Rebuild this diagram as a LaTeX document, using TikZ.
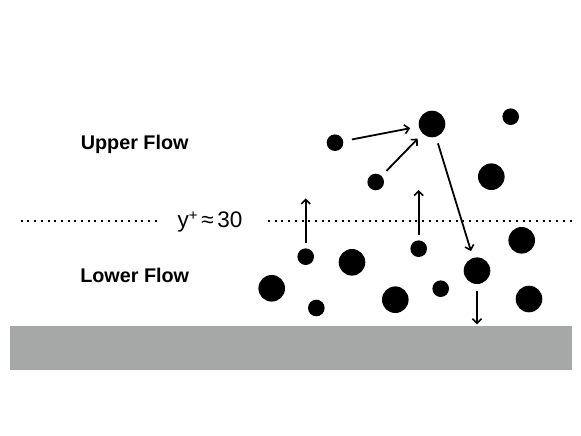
\documentclass[tikz,border=0pt]{standalone}
\usepackage{fontspec}
\setmainfont{Liberation Sans}
\usetikzlibrary{arrows.meta}
\begin{document}
\begin{tikzpicture}[x=1pt,y=-1pt,
  small/.style={circle,fill=black,inner sep=0pt,minimum size=16.6pt},
  big/.style={circle,fill=black,inner sep=0pt,minimum size=26.6pt},
  arr/.style={line width=1.8pt,-{Straight Barb[length=4.5pt,width=9pt,line width=1.6pt]}},
  lbl/.style={font=\fontsize{19.8}{23}\selectfont\bfseries,inner sep=0pt},
  dotline/.style={line width=2pt,dash pattern=on 2pt off 4.7pt},
  wallst/.style={fill=wall,draw=none}]
\definecolor{wall}{HTML}{A6A8A7}
\useasboundingbox (0,0) rectangle (581,436);
% wall
\node[wallst,minimum width=562.4pt,minimum height=43.3pt,inner sep=0pt,anchor=north west] (wall) at (9.3,326) {};
% labels
\node[lbl] (upper) at (134.7,144) {Upper Flow};
\node[lbl] (lower) at (134.7,275.7) {Lower Flow};
\node[font=\fontsize{22.5}{26}\selectfont,inner sep=0pt] (yplus) at (210,222) {y\raisebox{0.33em}{\fontsize{15}{16}\selectfont+}\,≈\,30};
% dotted line
\coordinate (d1) at (20.7,221);
\coordinate (d2) at (157,221);
\coordinate (d3) at (268,221);
\coordinate (d4) at (574,221);
\draw[dotline] (d1) -- (d2);
\draw[dotline] (d3) -- (d4);
% particles
\node[big] (p1) at (432,124) {};
\node[small] (p2) at (510.7,116.7) {};
\node[small] (p3) at (335,142.7) {};
\node[small] (p4) at (375.7,182) {};
\node[big] (p5) at (491.3,176.7) {};
\node[small] (p6) at (305.7,256.7) {};
\node[big] (p7) at (352,262.3) {};
\node[small] (p8) at (418.7,248.7) {};
\node[big] (p9) at (521.7,240.3) {};
\node[big] (p10) at (477,270.7) {};
\node[big] (p11) at (271.7,288.3) {};
\node[small] (p12) at (316.3,308) {};
\node[big] (p13) at (395.3,299.7) {};
\node[small] (p14) at (440.7,288.7) {};
\node[big] (p15) at (529,299) {};
% arrows
\draw[arr,shorten <=8.7pt,shorten >=8.7pt] (p3) -- (p1);
\draw[arr,shorten <=7pt,shorten >=7pt] (p4) -- (p1);
\draw[arr,shorten <=6.7pt,shorten >=7pt] (p1) -- (p10);
\coordinate (u1) at (305.7,198.3);
\coordinate (u2) at (418.7,190);
\draw[arr,shorten <=5.7pt] (p6) -- (u1);
\draw[arr,shorten <=5.3pt] (p8) -- (u2);
\coordinate (w1) at (477,324.3);
\draw[arr,shorten <=7pt] (p10) -- (w1);
\end{tikzpicture}
\end{document}
